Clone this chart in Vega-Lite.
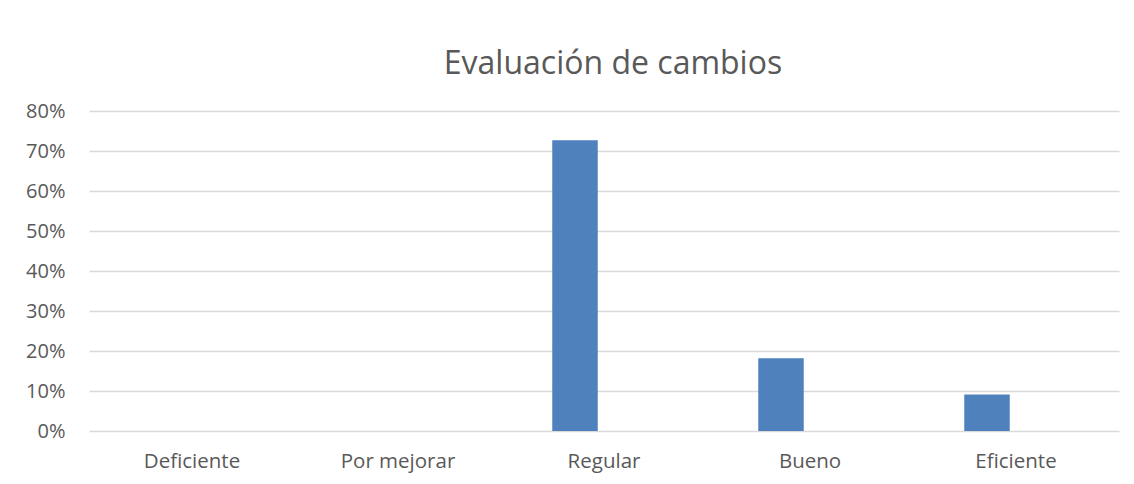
{
  "$schema": "https://vega.github.io/schema/vega-lite/v6.json",
  "width": 1030,
  "height": 320,
  "autosize": "none",
  "padding": {"left": 89, "top": 111, "right": 15, "bottom": 54},
  "background": "white",
  "title": {
    "text": "Evaluación de cambios",
    "font": "Open Sans",
    "fontSize": 32,
    "fontWeight": "normal",
    "color": "#595959",
    "anchor": "middle",
    "baseline": "alphabetic",
    "dx": 9,
    "offset": -5
  },
  "data": {
    "values": [
      {"categoria": "Deficiente", "porcentaje": 0},
      {"categoria": "Por mejorar", "porcentaje": 0},
      {"categoria": "Regular", "porcentaje": 0.727},
      {"categoria": "Bueno", "porcentaje": 0.182},
      {"categoria": "Eficiente", "porcentaje": 0.091}
    ]
  },
  "mark": {"type": "bar", "color": "#4f81bd", "width": 45.5, "xOffset": -29},
  "encoding": {
    "x": {
      "field": "categoria",
      "type": "nominal",
      "sort": null,
      "scale": {"paddingInner": 0, "paddingOuter": 0},
      "axis": {
        "title": null,
        "domain": false,
        "ticks": false,
        "grid": false,
        "labelAngle": 0,
        "labelFont": "Open Sans",
        "labelFontSize": 20.5,
        "labelColor": "#595959",
        "labelPadding": 20
      }
    },
    "y": {
      "field": "porcentaje",
      "type": "quantitative",
      "scale": {"domain": [0, 0.8], "nice": false},
      "axis": {
        "title": null,
        "format": ".0%",
        "values": [0, 0.1, 0.2, 0.3, 0.4, 0.5, 0.6, 0.7, 0.8],
        "domain": false,
        "ticks": false,
        "grid": true,
        "gridColor": "#d9d9d9",
        "gridWidth": 1.3,
        "labelFont": "Open Sans",
        "labelFontSize": 20,
        "labelColor": "#595959",
        "labelPadding": 24
      }
    }
  },
  "config": {"view": {"stroke": null}}
}
